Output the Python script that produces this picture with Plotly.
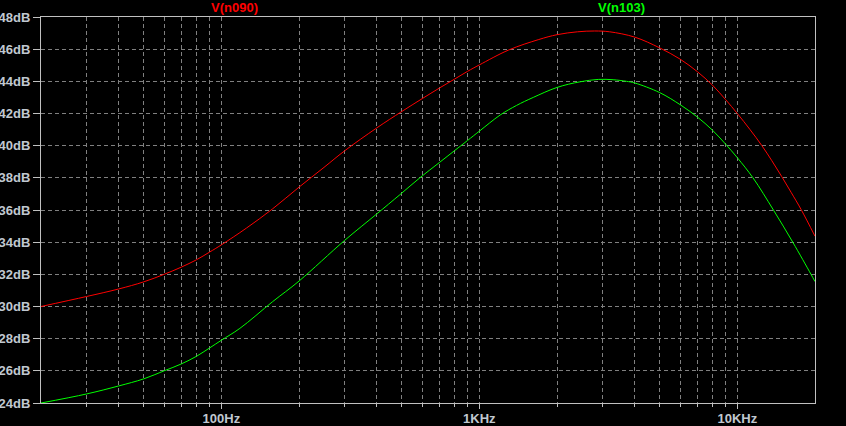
import plotly.graph_objects as go

# ---- data ----
freq_n090 = [20, 30, 40, 50, 60, 70, 80, 90, 100, 125, 158, 200, 250, 300, 400, 500, 600, 700, 800, 900,
             1000, 1300, 1700, 2000, 2400, 2800, 3200, 4000, 5000, 6000, 7000, 8000, 9000,
             10000, 11200, 12450, 13600, 14860, 16200, 17670, 20000]
db_n090 = [30.0, 30.62, 31.09, 31.53, 32.0, 32.45, 32.9, 33.38, 33.83, 34.87, 36.07, 37.42, 38.65, 39.67,
           41.1, 42.12, 42.92, 43.58, 44.13, 44.62, 45.02, 45.95, 46.6, 46.9, 47.08, 47.13, 47.08, 46.75,
           46.08, 45.38, 44.6, 43.77, 42.87, 42.0, 41.0, 40.0, 39.07, 38.08, 37.07, 36.03, 34.37]

freq_n103 = [20, 30, 40, 50, 60, 70, 80, 90, 100, 118, 158, 200, 300, 400, 492, 588, 700, 800, 900,
             1000, 1203, 1393, 1618, 2000, 2455, 2900, 3300, 3720, 4000, 5000, 6000, 7000, 8000, 9000,
             10000, 11500, 13800, 16400, 19300, 20000]
db_n103 = [24.0, 24.56, 25.06, 25.5, 26.0, 26.43, 26.9, 27.42, 27.9, 28.64, 30.3, 31.58, 34.1, 35.75,
           36.95, 38.0, 38.95, 39.68, 40.32, 40.9, 41.9, 42.5, 43.0, 43.62, 43.97, 44.12, 44.1, 44.0,
           43.9, 43.3, 42.55, 41.78, 40.97, 40.1, 39.25, 38.0, 36.0, 34.0, 32.0, 31.55]

x_major_vals = [100, 1000, 10000]
x_major_text = ["100Hz", "1KHz", "10KHz"]
x_minor_vals = [30, 40, 50, 60, 70, 80, 90, 200, 300, 400, 500, 600, 700, 800, 900,
                2000, 3000, 4000, 5000, 6000, 7000, 8000, 9000]
y_ticks = list(range(24, 49, 2))
y_text = [f"{v}dB" for v in y_ticks]

trace_names = ["V(n090)", "V(n103)"]
trace_colors = ["#ff0000", "#00ff00"]

# ---- figure ----
fig = go.Figure()
fig.add_trace(go.Scatter(x=freq_n090, y=db_n090, mode="lines", name=trace_names[0],
                         line=dict(color=trace_colors[0], width=1, shape="spline", smoothing=1.0)))
fig.add_trace(go.Scatter(x=freq_n103, y=db_n103, mode="lines", name=trace_names[1],
                         line=dict(color=trace_colors[1], width=1, shape="spline", smoothing=1.0)))

grid_col = "#808080"
axis_col = "#c0c0c0"
label_col = "#c0c8d0"
font_fam = "Liberation Sans, Arial, sans-serif"

fig.update_layout(
    width=846, height=426,
    margin=dict(l=41, r=31, t=17, b=23),
    paper_bgcolor="black", plot_bgcolor="black",
    showlegend=False,
    font=dict(family=font_fam, size=13, color=label_col),
)

fig.update_xaxes(
    type="log", automargin=False,
    range=[1.30103, 4.30103],
    tickmode="array", tickvals=x_major_vals, ticktext=x_major_text,
    ticks="outside", ticklen=5, tickcolor=axis_col, tickwidth=1,
    ticklabelstandoff=-2,
    showgrid=True, gridcolor=grid_col, griddash="4px,3px", gridwidth=1,
    minor=dict(tickmode="array", tickvals=x_minor_vals, ticks="outside", ticklen=3,
               tickcolor=axis_col, showgrid=True, gridcolor=grid_col, griddash="4px,3px", gridwidth=1),
    showline=True, linecolor=axis_col, linewidth=1, mirror=True,
    tickfont=dict(family=font_fam, size=13, color=label_col, weight="bold"),
    zeroline=False,
)
fig.update_yaxes(
    automargin=False,
    range=[24, 48],
    tickmode="array", tickvals=y_ticks, ticktext=y_text,
    ticks="outside", ticklen=7, tickcolor=axis_col, tickwidth=1,
    showgrid=True, gridcolor=grid_col, griddash="4px,3px", gridwidth=1,
    showline=True, linecolor=axis_col, linewidth=1, mirror=True,
    tickfont=dict(family=font_fam, size=13, color=label_col, weight="bold"),
    zeroline=False,
)

for i, (nm, col) in enumerate(zip(trace_names, trace_colors)):
    fig.add_annotation(text=f"<b>{nm}</b>", x=0.25 + 0.5 * i, y=1.0246,
                       xref="paper", yref="paper", xanchor="center", yanchor="middle",
                       showarrow=False, font=dict(family=font_fam, size=13, color=col))

fig.write_html("out.html", config={"displayModeBar": False},
               post_script="document.body.style.margin='0px';document.body.style.padding='0px';"
                           "document.body.style.background='black';")
